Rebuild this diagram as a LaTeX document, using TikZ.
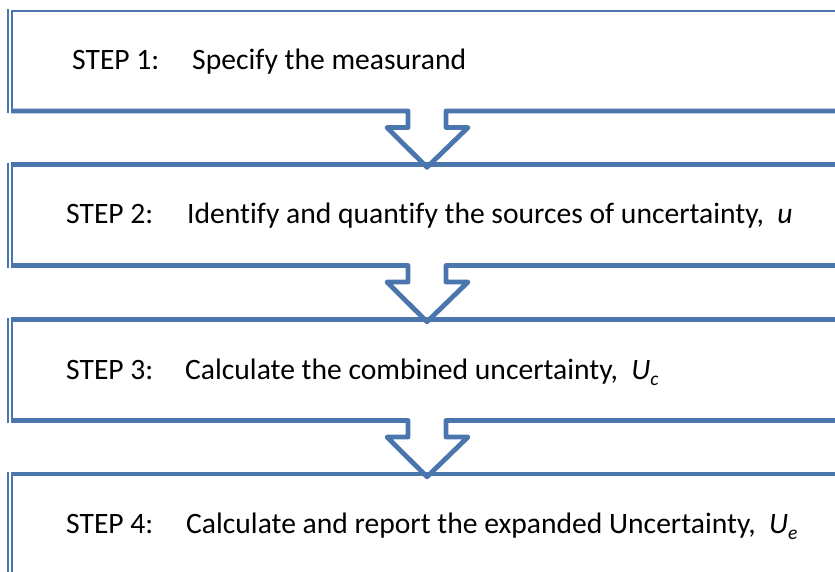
\documentclass[tikz,border=0pt]{standalone}
\usepackage{fontspec}
\setmainfont{Carlito}[Ligatures=NoCommon]
\definecolor{stepblue}{HTML}{4A75AD}
\newcommand{\subidx}[1]{\raisebox{-0.22em}{\fontsize{19.5}{19.5}\selectfont\itshape #1}}
\begin{document}
\begin{tikzpicture}[x=1pt,y=-1pt,
  edge/.style={draw=stepblue,line width=4.8pt,line join=round},
  topedge/.style={draw=stepblue,line width=2pt},
  inner rule/.style={draw=stepblue,line width=2.6pt},
  outer rule/.style={draw=stepblue,line width=1.5pt},
  steptext/.style={anchor=base west,inner sep=0pt,font=\fontsize{29.6}{35}\selectfont}]
\useasboundingbox (0,0) rectangle (835,571);

% step frames: top edge, double rule on the left
\draw[topedge] (11,11) -- (845,11);
\draw[edge] (11,164.5) -- (845,164.5);
\draw[edge] (11,319.5) -- (845,319.5);
\draw[edge] (11,474) -- (845,474);

\draw[inner rule] (12,9.8) -- (12,113.4);
\draw[outer rule] (8,9) -- (8,113);
\draw[inner rule] (12,162) -- (12,268);
\draw[outer rule] (8,162.5) -- (8,267.5);
\draw[inner rule] (12,317) -- (12,423);
\draw[outer rule] (8,317.5) -- (8,422.5);
\draw[inner rule] (12,471.5) -- (12,580);
\draw[outer rule] (8,472) -- (8,580);

% bottom edges, each opening into a hollow arrow to the next step
\foreach \y/\n in {111/a, 265.5/b, 420.5/c}{
  \coordinate (shaftL\n) at (408,\y);
  \coordinate (shaftR\n) at (446,\y);
  \coordinate (tip\n) at (427,\y+56.3);
  \draw[edge] (11,\y) -- (shaftL\n) -- ++(0,16.5) -- ++(-21,0)
    -- (tip\n) -- (468,\y+16.5) -- (446,\y+16.5) -- (shaftR\n) -- (845,\y);
}

% step texts
\node[steptext] (s1) at (72,69) {STEP 1:};
\node[steptext] (d1) at (192,69) {Specify the measurand};
\node[steptext] (s2) at (66,223) {STEP 2:};
\node[steptext] (d2) at (187,223) {Identify and quantify the sources of uncertainty,\ \ \textit{u}};
\node[steptext] (s3) at (66,379) {STEP 3:};
\node[steptext] (d3) at (185,379) {Calculate the combined uncertainty,\ \ \textit{U}\subidx{c}};
\node[steptext] (s4) at (66,533) {STEP 4:};
\node[steptext] (d4) at (186,533) {Calculate and report the expanded Uncertainty,\ \ \textit{U}\subidx{e}};
\end{tikzpicture}
\end{document}
